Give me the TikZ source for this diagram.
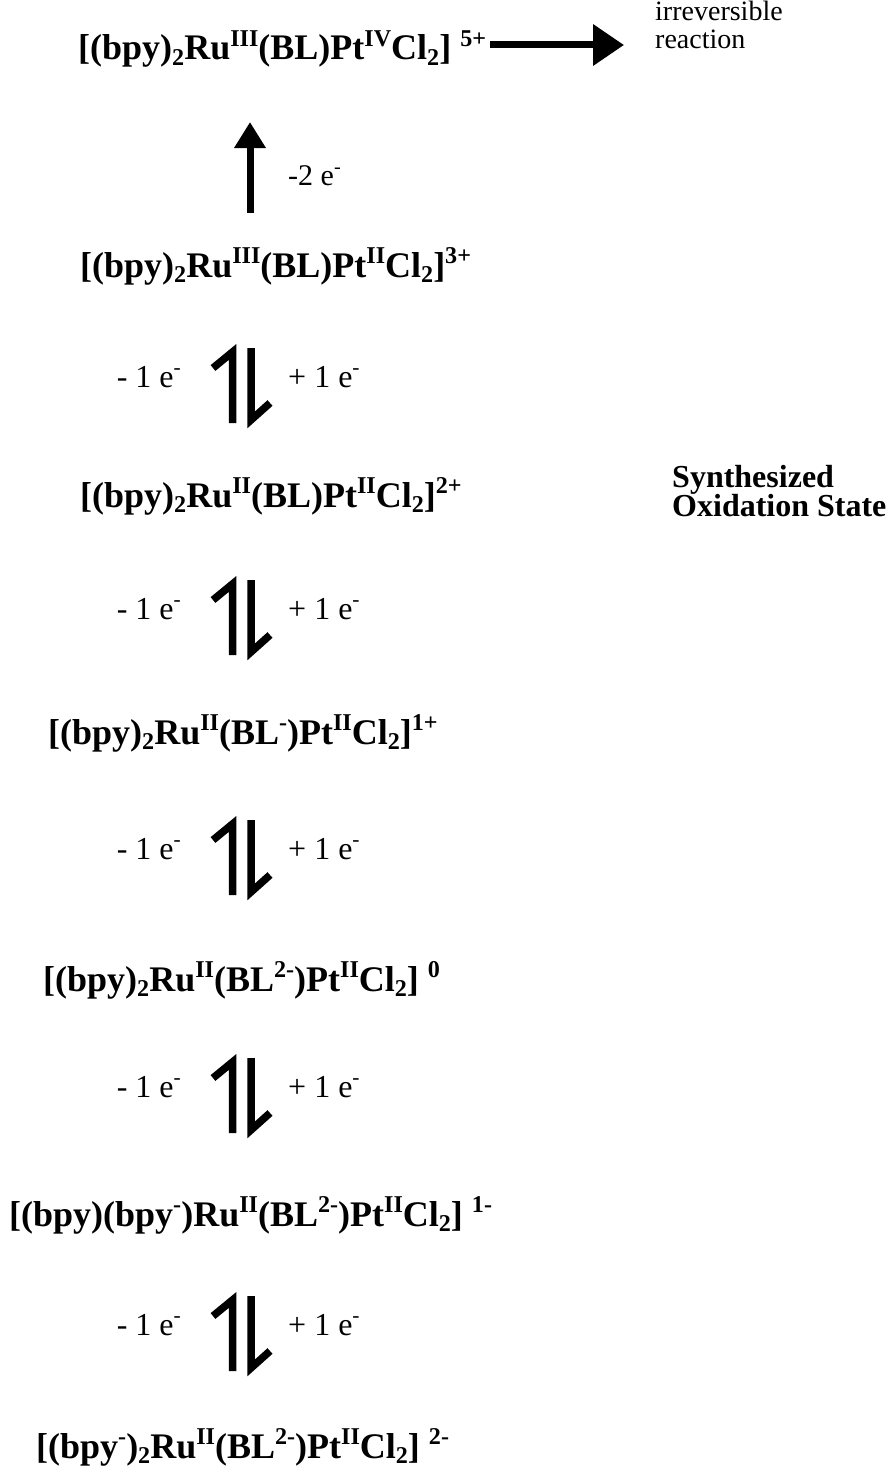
\documentclass[tikz,border=0pt]{standalone}
\usepackage{fontspec}
\setmainfont{Liberation Serif}
\usetikzlibrary{arrows.meta}
\newcommand\fml{\fontsize{36}{40}\selectfont\bfseries}
\newcommand\lbl{\fontsize{32}{36}\selectfont}
\newcommand\lblmid{\fontsize{30}{34}\selectfont}
\newcommand\lblsmall{\fontsize{28}{32}\selectfont}
\newcommand\lblbold{\fontsize{32}{36}\selectfont\bfseries}
\makeatletter
\newcommand\SU[1]{\raisebox{0.38em}{\fontsize{\fpeval{0.67*\f@size}}{0}\selectfont #1}}
\newcommand\SB[1]{\raisebox{-0.14em}{\fontsize{\fpeval{0.67*\f@size}}{0}\selectfont #1}}
\makeatother
\tikzset{
  formula/.style={anchor=base west,inner sep=0pt,font=\fml},
  elabel/.style={inner sep=0pt,font=\lbl},
  note/.style={anchor=base west,inner sep=0pt,font=\lblsmall},
  boldnote/.style={anchor=base west,inner sep=0pt,font=\lblbold},
  eqarrow/.style={line width=7.5pt,line join=miter,line cap=butt},
  bigarrow/.style={line width=7pt,-{Triangle[length=31pt,width=40pt]}},
  uparrow/.style={line width=7pt,-{Triangle[length=26pt,width=30pt]}},
  eqpair/.pic={
    \draw[eqarrow] (0,75) -- (0,4) -- (-19.5,20);
    \draw[eqarrow] (18.5,0) -- (18.5,72) -- (37.5,55);
  }
}
\begin{document}
\begin{tikzpicture}[x=1pt,y=-1pt]
\useasboundingbox (0,0) rectangle (892,1477);
% formulas
\node[formula] (f1) at (78,60) {[(bpy)\SB{2}Ru\SU{III}(BL)Pt\SU{IV}Cl\SB{2}] \SU{5+}};
\node[formula] (f2) at (80,277) {[(bpy)\SB{2}Ru\SU{III}(BL)Pt\SU{II}Cl\SB{2}]\SU{3+}};
\node[formula] (f3) at (80,507) {[(bpy)\SB{2}Ru\SU{II}(BL)Pt\SU{II}Cl\SB{2}]\SU{2+}};
\node[formula] (f4) at (48,744) {[(bpy)\SB{2}Ru\SU{II}(BL\SU{-})Pt\SU{II}Cl\SB{2}]\SU{1+}};
\node[formula] (f5) at (43,991) {[(bpy)\SB{2}Ru\SU{II}(BL\SU{2-})Pt\SU{II}Cl\SB{2}] \SU{0}};
\node[formula] (f6) at (9,1226) {[(bpy)(bpy\SU{-})Ru\SU{II}(BL\SU{2-})Pt\SU{II}Cl\SB{2}] \SU{1-}};
\node[formula] (f7) at (36,1458) {[(bpy\SU{-})\SB{2}Ru\SU{II}(BL\SU{2-})Pt\SU{II}Cl\SB{2}] \SU{2-}};
% notes
\node[note] (irr) at (655,21) {irreversible};
\node[note] (reac) at (655,49) {reaction};
\node[boldnote] (syn) at (672,487) {Synthesized};
\node[boldnote] (ox) at (672,516) {Oxidation State};
% irreversible arrow
\coordinate (a1s) at (490,45);
\coordinate (a1e) at (624,45);
\draw[bigarrow] (a1s) -- (a1e);
% -2 e arrow
\coordinate (a2s) at (250,213);
\coordinate (a2e) at (250,122);
\draw[uparrow] (a2s) -- (a2e);
\node[inner sep=0pt,font=\lblmid,anchor=base west] (m2) at (288,185) {-2 e\SU{-}};
% equilibria
\foreach \t/\n in {348/1,580/2,820/3,1058/4,1296/5}{
  \coordinate (eq\n) at (232.5,\t);
  \pic at (eq\n) {eqpair};
  \node[elabel,anchor=base east] (ml\n) at (181,\t+39) {- 1 e\SU{-}};
  \node[elabel,anchor=base west] (pl\n) at (288,\t+39) {+ 1 e\SU{-}};
}
\end{tikzpicture}
\end{document}
